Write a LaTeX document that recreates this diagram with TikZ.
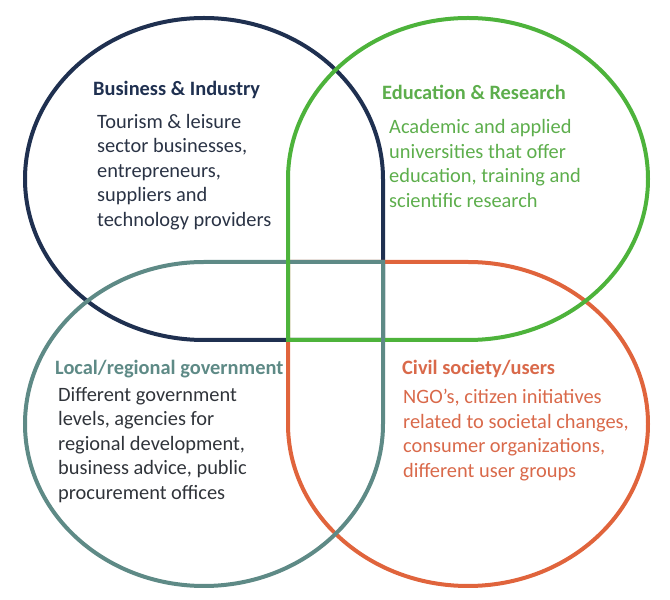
\documentclass[tikz,border=0pt]{standalone}
\usepackage{fontspec}
\setmainfont{Carlito}
\definecolor{navy}{HTML}{1F3050}
\definecolor{navytext}{HTML}{2A3345}
\definecolor{grn}{HTML}{4DB33B}
\definecolor{grntext}{HTML}{5DAE4C}
\definecolor{teal}{HTML}{5E8A86}
\definecolor{bodytext}{HTML}{30343A}
\definecolor{org}{HTML}{E0643C}
\definecolor{orgtext}{HTML}{D9694A}
\begin{document}
\begin{tikzpicture}[x=1pt,y=1pt,
  shapeline/.style={line width=4pt,line join=miter},
  title/.style={anchor=base west,inner sep=0pt,font=\fontsize{20.4}{24.5}\selectfont\bfseries},
  body/.style={anchor=base west,inner sep=0pt,align=left,font=\fontsize{20.4}{24.5}\selectfont}]
\useasboundingbox (0,0) rectangle (670,600);
% Business & Industry (navy)
\draw[shapeline,navy] (383,260) -- (383,421) arc[start angle=0,end angle=180,x radius=179,y radius=161]
  arc[start angle=180,end angle=270,x radius=179,y radius=161] -- cycle;
% Civil society (orange)
\draw[shapeline,org] (288,338) -- (288,176) arc[start angle=180,end angle=360,x radius=180,y radius=162]
  arc[start angle=0,end angle=90,x radius=180,y radius=162] -- cycle;
% Local/regional government (teal)
\draw[shapeline,teal] (383,338) -- (383,176) arc[start angle=0,end angle=-180,x radius=179,y radius=162]
  arc[start angle=180,end angle=90,x radius=179,y radius=162] -- cycle;
% Education & Research (green)
\draw[shapeline,grn] (288,260) -- (288,421) arc[start angle=180,end angle=0,x radius=180,y radius=161]
  arc[start angle=0,end angle=-90,x radius=180,y radius=161] -- cycle;
% teal over green at lower right corner of centre square
\draw[line width=4pt,teal] (383,272) -- (383,248);
% texts
\node[title,text=navy] (bit) at (93,504) {Business \& Industry};
\node[body,text=navytext] (bib) at (97,373.5) {Tourism \& leisure\\sector businesses,\\entrepreneurs,\\suppliers and\\technology providers};
\node[title,text=grntext] (ert) at (382,500) {Education \& Research};
\node[body,text=grntext] (erb) at (389,392.5) {Academic and applied\\universities that offer\\education, training and\\scientific research};
\node[title,text=teal] (lgt) at (55,225) {Local/regional government};
\node[body,text=bodytext] (lgb) at (58,100.5) {Different government\\levels, agencies for\\regional development,\\business advice, public\\procurement offices};
\node[title,text=orgtext] (cst) at (402,225.5) {Civil society/users};
\node[body,text=orgtext] (csb) at (403,122.5) {NGO’s, citizen initiatives\\related to societal changes,\\consumer organizations,\\different user groups};
\end{tikzpicture}
\end{document}
